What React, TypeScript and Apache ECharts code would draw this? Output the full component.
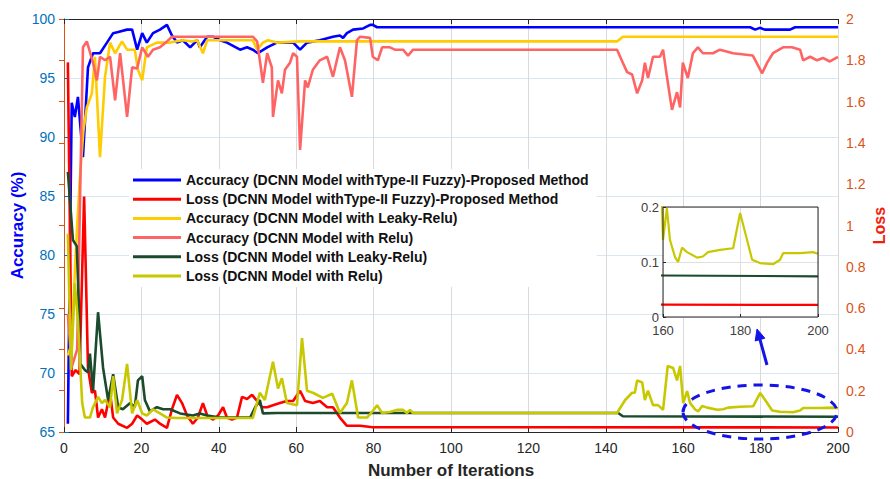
import React, { useEffect, useRef } from 'react';
import * as echarts from 'echarts';

// ---- data: [iteration, value] ----
const accProposed: [number, number][] = [
  [1, 65.7], [2, 92.9], [2.8, 91.7], [3.6, 93.4], [4.9, 88.3], [6.2, 95.9], [7.5, 97.1], [9.3, 97.1], [11.1, 98.0],
  [12.7, 98.8], [14, 98.9], [16.3, 99.1], [17.6, 99.1], [18.9, 97.4], [20.2, 98.8], [21.4, 98.0], [23, 98.8],
  [24.8, 99.1], [26.6, 99.5], [27.9, 98.6], [29.2, 98.0], [30.7, 98.2], [32.6, 97.6], [34.4, 98.2], [35.1, 97.6],
  [37, 98.5], [38.5, 98.5], [40.3, 98.2], [42.1, 98.0], [45.5, 97.4], [47.3, 97.6], [48.8, 97.4], [50.1, 97.1],
  [52.5, 97.6], [55, 98.0], [59.2, 98.0], [61, 97.4], [62.8, 98.0], [66.1, 98.2], [69.5, 98.5], [71.3, 98.6],
  [72.1, 98.4], [73.1, 98.8], [74.7, 99.1], [77.3, 99.2], [79.1, 99.5], [79.8, 99.5], [80.9, 99.3], [177.3, 99.3],
  [178.6, 99.1], [179.8, 99.25], [181.1, 99.1], [187.6, 99.1], [188.9, 99.3], [200, 99.3],
];

const lossProposed: [number, number][] = [
  [1, 1.79], [2, 0.27], [3, 0.3], [4, 0.28], [5.2, 1.14], [6.2, 0.31], [7.2, 0.19], [8, 0.2], [8.8, 0.07], [9.8, 0.11],
  [10.6, 0.07], [11.9, 0.19], [12.7, 0.07], [14, 0.04], [16.3, 0.02], [17.6, 0.04], [18.9, 0.08], [20.2, 0.06],
  [21.4, 0.04], [23.5, 0.06], [24.8, 0.04], [26.6, 0.02], [27.9, 0.11], [29.2, 0.18], [30.5, 0.14], [31.8, 0.08],
  [33.3, 0.04], [34.6, 0.07], [35.9, 0.14], [37, 0.08], [38.5, 0.06], [39.8, 0.08], [41.1, 0.12], [42.1, 0.07],
  [43.4, 0.06], [44.7, 0.07], [46, 0.17], [47.3, 0.16], [48.6, 0.18], [49.9, 0.15], [51.2, 0.12], [52.5, 0.12],
  [54, 0.13], [55.8, 0.14], [57.6, 0.15], [59.2, 0.15], [61, 0.2], [62.3, 0.15], [64.3, 0.14], [66.1, 0.15],
  [68, 0.12], [69.5, 0.12], [71.3, 0.07], [73.1, 0.03], [76.5, 0.03], [79.8, 0.023], [200, 0.022],
];

const accLeaky: [number, number][] = [
  [1, 71.5], [2, 72.5], [3, 80], [4, 86], [5, 90.5], [5.9, 92.5], [7.2, 93.7], [8, 96.8], [9.3, 88.3], [10.6, 95.1],
  [11.9, 98.0], [13.2, 97.1], [15, 98.1], [16.3, 97.4], [18.3, 97.4], [19.1, 95.7], [20.2, 94.8], [21.4, 97.6],
  [24, 98.0], [27.4, 98.0], [28.7, 98.1], [30.7, 98.2], [33.1, 98.1], [34.4, 98.2], [35.9, 97.1], [37, 98.2],
  [48.8, 98.2], [49.9, 97.4], [51.4, 98.0], [52.7, 98.2], [55, 98.0], [61, 98.1], [142.9, 98.1], [144.4, 98.5],
  [200, 98.5],
];

const accRelu: [number, number][] = [
  [1, 75], [2, 70.5], [3.4, 72], [4.9, 97.6], [5.9, 98.1], [7.5, 96.3], [8.5, 94.8], [9.3, 96.8], [10.6, 96.5],
  [11.9, 96.8], [13.2, 93.1], [14.5, 97.1], [16.3, 91.7], [17.6, 95.9], [18.9, 95.8], [20.2, 97.6], [21.7, 96.8],
  [23, 97.4], [24.8, 97.6], [26.6, 98.1], [27.9, 98.5], [48.8, 98.5], [49.9, 98.1], [50.6, 96.5], [51.4, 94.6],
  [52.5, 97.1], [53.7, 95.9], [54, 91.7], [55.3, 94.8], [56.3, 93.7], [57.1, 95.7], [58.4, 96.3], [59.2, 97.1],
  [60.2, 96.8], [61, 88.9], [62.3, 94.8], [63, 94.2], [64.3, 95.7], [66.1, 96.5], [68, 96.8], [69.5, 95.1],
  [71.3, 97.6], [72.6, 96.5], [74.4, 93.4], [75.7, 98.2], [76.5, 98.5], [79.1, 98.4], [79.8, 96.8], [81.1, 96.5],
  [82.2, 97.6], [84.2, 97.6], [85.5, 97.4], [87.6, 97.4], [88.9, 96.9], [90.2, 97.4], [142.9, 97.4], [144.4, 96.3],
  [145.5, 95.5], [146.8, 95.3], [148.1, 93.7], [149.4, 94.8], [150.1, 96.3], [150.9, 95.0], [152.2, 96.8],
  [154, 96.8], [154.8, 97.4], [155.8, 95.1], [157.1, 92.3], [158.4, 93.8], [159.2, 92.5], [159.9, 96.3],
  [161.2, 95.0], [162.5, 97.1], [163.8, 97.6], [165.1, 97.1], [167.7, 97.1], [169.5, 97.4], [172.9, 97.1],
  [178, 96.9], [180.4, 95.4], [181.7, 96.3], [183.2, 97.1], [185.8, 97.6], [188.1, 97.6], [190.2, 97.4],
  [191, 96.5], [192.8, 96.8], [194.6, 96.5], [196.1, 96.7], [197.9, 96.4], [200, 96.8],
];

const lossLeaky: [number, number][] = [
  [1, 1.26], [2.3, 0.93], [3.3, 0.9], [3.8, 0.64], [4.2, 0.33], [5.4, 0.3], [6.2, 0.29], [6.7, 0.38], [7.5, 0.2],
  [8.8, 0.58], [10.1, 0.31], [11.4, 0.155], [12.7, 0.28], [14, 0.12], [15.2, 0.11], [17.1, 0.14], [18.3, 0.12],
  [19.1, 0.25], [20.2, 0.27], [20.9, 0.155], [22.2, 0.1], [24, 0.12], [25.6, 0.11], [27.4, 0.11], [30, 0.09],
  [33.3, 0.08], [35.1, 0.09], [37, 0.08], [40.3, 0.07], [48.1, 0.07], [49.4, 0.12], [50.6, 0.155], [51.4, 0.09],
  [55, 0.092], [143.2, 0.092], [144.4, 0.076], [200, 0.074],
];

const lossRelu: [number, number][] = [
  [1, 0.96], [1.8, 0.3], [2.8, 0.72], [3.6, 0.54], [4.7, 0.14], [5.4, 0.07], [6.7, 0.07], [7.5, 0.12], [8.8, 0.17],
  [9.8, 0.14], [10.6, 0.155], [11.9, 0.12], [12.7, 0.27], [13.7, 0.09], [15, 0.155], [16.3, 0.33], [17.6, 0.09],
  [18.9, 0.155], [20.2, 0.09], [21.4, 0.08], [23, 0.11], [24.8, 0.09], [26.6, 0.07], [29.2, 0.068], [48.8, 0.068],
  [50.6, 0.19], [51.9, 0.155], [54, 0.34], [55.3, 0.21], [56.3, 0.26], [57.6, 0.14], [60.2, 0.13], [61.5, 0.455],
  [62.8, 0.2], [64.3, 0.19], [66.9, 0.165], [69.3, 0.185], [71.3, 0.092], [73.1, 0.14], [74.4, 0.25], [76, 0.07],
  [78.3, 0.07], [79.6, 0.097], [80.9, 0.13], [82.2, 0.092], [84.2, 0.097], [86, 0.107], [87.6, 0.107],
  [88.6, 0.092], [89.4, 0.107], [90.2, 0.092], [142.9, 0.092], [145, 0.155], [146.8, 0.19], [147.5, 0.19],
  [148.1, 0.25], [149.4, 0.24], [150.1, 0.155], [150.9, 0.2], [152.2, 0.13], [153.5, 0.13], [154.8, 0.107],
  [156, 0.32], [157.4, 0.31], [158.4, 0.25], [159.2, 0.32], [160, 0.14], [161, 0.198], [161.8, 0.14],
  [163.1, 0.109], [163.9, 0.1], [164.9, 0.126], [166.2, 0.118], [168.8, 0.108], [170.3, 0.11], [171.6, 0.118],
  [174.7, 0.122], [178.1, 0.125], [179.9, 0.189], [181.7, 0.14], [183, 0.104], [185, 0.098], [188.4, 0.096],
  [190.2, 0.104], [191, 0.116], [195.4, 0.116], [198.7, 0.118], [200, 0.115],
];

const seriesNames = [
  'Accuracy (DCNN Model withType-II Fuzzy)-Proposed Method',
  'Loss (DCNN Model withType-II Fuzzy)-Proposed Method',
  'Accuracy (DCNN Model with Leaky-Relu)',
  'Accuracy (DCNN Model with Relu)',
  'Loss (DCNN Model with Leaky-Relu)',
  'Loss (DCNN Model with Relu)',
];
const seriesColors = ['#0000FF', '#FF0000', '#FFCC00', '#FF6464', '#1B4A2C', '#C8C800'];
const seriesData = [accProposed, lossProposed, accLeaky, accRelu, lossLeaky, lossRelu];
const seriesAxis = [0, 1, 0, 0, 1, 1];

const FONT = '"Liberation Sans", Arial, Helvetica, sans-serif';

export default function App() {
  const ref = useRef<HTMLDivElement>(null);
  useEffect(() => {
    document.body.style.margin = '0';
    if (!ref.current) return;
    const chart = echarts.init(ref.current, undefined, { renderer: 'svg' });

    const mainSeries = seriesData.map((d, i) => ({
      name: seriesNames[i],
      type: 'line',
      xAxisIndex: 0,
      yAxisIndex: seriesAxis[i],
      data: d,
      symbol: 'none',
      showSymbol: false,
      z: 2 + i * 0.01,
      lineStyle: { color: seriesColors[i], width: 2.6 },
      itemStyle: { color: seriesColors[i] },
    }));

    const insetIdx = [1, 4, 5];
    const insetSeries = insetIdx.map((i) => ({
      name: 'inset ' + seriesNames[i],
      type: 'line',
      xAxisIndex: 2,
      yAxisIndex: 2,
      data: seriesData[i],
      symbol: 'none',
      showSymbol: false,
      clip: true,
      z: 7,
      lineStyle: { color: seriesColors[i], width: 2.2 },
    }));

    const option: any = {
      animation: false,
      backgroundColor: '#ffffff',
      textStyle: { fontFamily: FONT },
      grid: [
        { left: 64, right: 52, top: 19, bottom: 47, containLabel: false, outerBoundsMode: 'none' },
        { left: 663, top: 207, width: 155, height: 110, containLabel: false, outerBoundsMode: 'none' },
      ],
      legend: {
        data: seriesNames,
        orient: 'vertical',
        left: 129,
        top: 169,
        icon: 'rect',
        itemWidth: 48,
        itemHeight: 3,
        itemGap: 5.2,
        padding: [4, 8, 4, 4],
        backgroundColor: '#ffffff',
        textStyle: { fontFamily: FONT, fontWeight: 'bold', fontSize: 14, lineHeight: 14, color: '#111111' },
        z: 4,
      },
      xAxis: [
        {
          type: 'value', gridIndex: 0, min: 0, max: 200, interval: 20, position: 'bottom',
          name: 'Number of Iterations', nameLocation: 'middle', nameGap: 30, nameMoveOverlap: false,
          nameTextStyle: { fontFamily: FONT, fontWeight: 'bold', fontSize: 17, color: '#262626' },
          axisLine: { lineStyle: { color: '#262626', width: 1 } },
          axisTick: { inside: true, length: 5, lineStyle: { color: '#262626' } },
          axisLabel: { color: '#262626', fontSize: 14, margin: 9, fontFamily: FONT },
          splitLine: { show: true, lineStyle: { color: '#dadada', width: 1 } },
        },
        {
          type: 'value', gridIndex: 0, min: 0, max: 200, interval: 20, position: 'top',
          axisLine: { lineStyle: { color: '#262626', width: 1 } },
          axisTick: { inside: true, length: 5, lineStyle: { color: '#262626' } },
          axisLabel: { show: false },
          splitLine: { show: false },
        },
        {
          type: 'value', gridIndex: 1, min: 160, max: 200, interval: 20, position: 'bottom', z: 5,
          axisLine: { show: false },
          axisTick: { inside: true, length: 3, lineStyle: { color: '#262626' } },
          axisLabel: { color: '#404040', fontSize: 13, lineHeight: 13, margin: 7, fontFamily: FONT },
          splitLine: { show: true, lineStyle: { color: '#e0e0e0', width: 1 } },
        },
      ],
      yAxis: [
        {
          type: 'value', gridIndex: 0, min: 65, max: 100, interval: 5, position: 'left',
          name: 'Accuracy (%)', nameLocation: 'middle', nameGap: 38, nameMoveOverlap: false,
          nameTextStyle: { fontFamily: FONT, fontWeight: 'bold', fontSize: 17, color: '#0000FF' },
          axisLine: { show: true, lineStyle: { color: '#0072BD', width: 1 } },
          axisTick: { show: true, inside: true, length: 5, lineStyle: { color: '#0072BD' } },
          axisLabel: { color: '#0072BD', fontSize: 14, margin: 9, fontFamily: FONT },
          splitLine: { show: true, lineStyle: { color: '#d9e7f4', width: 1 } },
        },
        {
          type: 'value', gridIndex: 0, min: 0, max: 2, interval: 0.2, position: 'right',
          name: 'Loss', nameLocation: 'middle', nameGap: 33, nameMoveOverlap: false,
          nameTextStyle: { fontFamily: FONT, fontWeight: 'bold', fontSize: 16, color: '#F01E0A' },
          axisLine: { show: true, lineStyle: { color: '#D95319', width: 1 } },
          axisTick: { show: true, inside: true, length: 5, lineStyle: { color: '#D95319' } },
          axisLabel: { color: '#D95319', fontSize: 14, margin: 8, fontFamily: FONT },
          splitLine: { show: false },
        },
        {
          type: 'value', gridIndex: 1, min: 0, max: 0.2, interval: 0.1, position: 'left', z: 5,
          axisLine: { show: false },
          axisTick: { show: true, inside: true, length: 3, lineStyle: { color: '#262626' } },
          axisLabel: { color: '#404040', fontSize: 13, lineHeight: 12, margin: 4, fontFamily: FONT },
          splitLine: { show: true, lineStyle: { color: '#e0e0e0', width: 1 } },
        },
      ],
      graphic: [
        {
          type: 'rect', z: 3, silent: true,
          shape: { x: 663, y: 207, width: 155, height: 110 },
          style: { fill: '#ffffff', stroke: 'none' },
        },
        {
          type: 'rect', z: 8, silent: true,
          shape: { x: 663, y: 207, width: 155, height: 110 },
          style: { fill: 'none', stroke: '#262626', lineWidth: 1 },
        },
        {
          type: 'ellipse', z: 9, silent: true,
          shape: { cx: 760, cy: 412, rx: 77, ry: 27 },
          style: { fill: 'none', stroke: '#1414E6', lineWidth: 3, lineDash: [9, 7] },
        },
        {
          type: 'line', z: 9, silent: true,
          shape: { x1: 767, y1: 365, x2: 760, y2: 339.6 },
          style: { stroke: '#1414E6', lineWidth: 3 },
        },
        {
          type: 'polygon', z: 9, silent: true,
          shape: { points: [[757, 329], [764.8, 338.2], [755.2, 341]] },
          style: { fill: '#1414E6', stroke: '#1414E6', lineWidth: 1 },
        },
      ],
      series: [...mainSeries, ...insetSeries],
    };
    chart.setOption(option);
    return () => chart.dispose();
  }, []);
  return <div ref={ref} style={{ width: 890, height: 479 }} />;
}
